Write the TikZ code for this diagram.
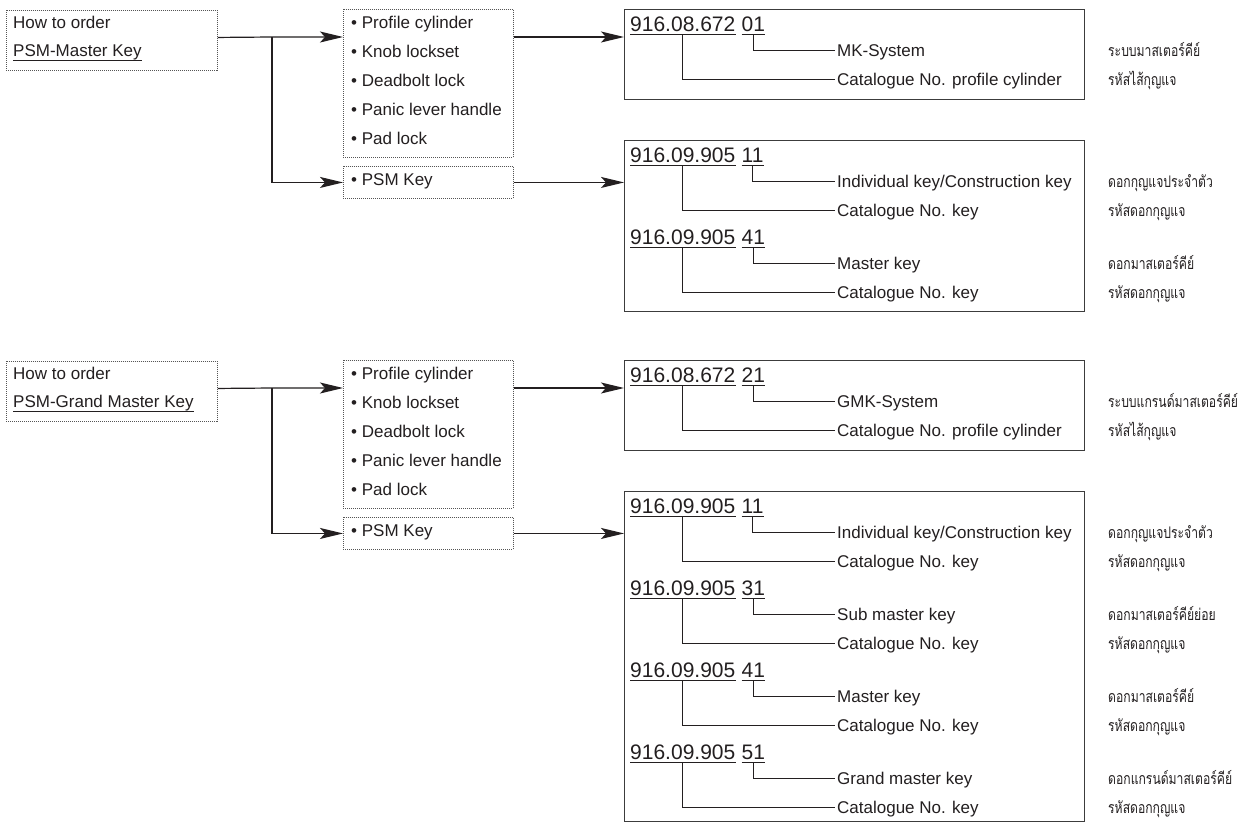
\documentclass[tikz,border=0pt]{standalone}
\usepackage{fontspec}
\setmainfont{Liberation Sans}
\newfontfamily\thaifont[Script=Thai]{Loma}
\usetikzlibrary{arrows.meta}
\definecolor{ink}{HTML}{231F20}
\definecolor{boxcol}{HTML}{3C3C3C}
\definecolor{dotcol}{HTML}{555555}
\newcommand\thtext[1]{\scalebox{0.76}[1]{\thaifont\fontsize{16}{20}\selectfont #1}}
\newcommand\kblock[8]{%
  \node[num] (#1n) at (630,#2) {#3};
  \node[num, xshift=6pt] (#1c) at (#1n.base east) {#4};
  \draw[uline] ([yshift=-3pt]#1n.base west) -- ([yshift=-3pt]#1n.base east);
  \draw[uline] ([yshift=-3pt]#1c.base west) -- ([yshift=-3pt]#1c.base east);
  \node[lbl] (#1a) at (837,#2+25) {#5};
  \node[lbl] (#1b) at (837,#2+54) {#7};
  \node[th] (#1at) at (1108,#2+25) {\thtext{#6}};
  \node[th] (#1bt) at (1108,#2+54) {\thtext{#8}};
  \draw[lead] ([yshift=-3pt]#1c.base) |- ([xshift=-2pt,yshift=6pt]#1a.base west);
  \draw[lead] ([yshift=-3pt]#1n.base) |- ([xshift=-2pt,yshift=6pt]#1b.base west);
}
\begin{document}
\begin{tikzpicture}[x=1pt,y=-1pt,
  dotbox/.style={draw=dotcol, line width=0.9pt, dash pattern=on 1pt off 1pt, anchor=north west, inner sep=0pt},
  solidbox/.style={draw=boxcol, line width=1.1pt, anchor=north west, inner sep=0pt},
  lbl/.style={anchor=base west, inner sep=0pt, font=\fontsize{17}{20}\selectfont, text=ink},
  num/.style={anchor=base west, inner sep=0pt, font=\fontsize{21}{24}\selectfont, text=ink},
  th/.style={anchor=base west, inner sep=0pt, text=ink},
  arr/.style={draw=ink, line width=1.2pt, -{Stealth[length=23pt,width=11pt,inset=5pt]}},
  lead/.style={draw=ink, line width=0.9pt},
  uline/.style={draw=ink, line width=0.9pt}]
\fill[white] (0,0) rectangle (1257,822);
\useasboundingbox (0,0) rectangle (1257,822);

% ---------- Master key ----------
\node[dotbox, minimum width=211pt, minimum height=60pt] (A1) at (6,10) {};
\node[lbl] (A1t1) at (13,28) {How to order};
\node[lbl] (A1t2) at (13,56) {PSM-Master Key};
\draw[uline] ([yshift=-4pt]A1t2.base west) -- ([yshift=-4pt]A1t2.base east);

\node[dotbox, minimum width=170pt, minimum height=148pt] (B1) at (343,9) {};
\foreach \t [count=\i from 0] in {Profile cylinder,Knob lockset,Deadbolt lock,Panic lever handle,Pad lock}
  \node[lbl] (B1i\i) at (351,28+29*\i) {• \t};
\node[dotbox, minimum width=170pt, minimum height=32pt] (B2) at (343,166) {};
\node[lbl] (B2i) at (351,185) {• PSM Key};

\node[solidbox, minimum width=460pt, minimum height=90pt] (C1) at (624,9) {};
\node[solidbox, minimum width=460pt, minimum height=171pt] (C2) at (624,140) {};

\coordinate (J1) at (272,37);
\draw[arr] ([yshift=3pt]A1.east) -- (J1) -- (J1 -| B1.west);
\draw[arr] (J1) |- (B2.west);
\draw[arr] (B1.east |- J1) -- (C1.west |- J1);
\draw[arr] (B2.east) -- (B2.east -| C2.west);

\kblock{k1}{31}{916.08.672}{01}{MK-System}{ระบบมาสเตอร์คีย์}{Catalogue No. profile cylinder}{รหัสไส้กุญแจ}
\kblock{k2}{162}{916.09.905}{11}{Individual key/Construction key}{ดอกกุญแจประจำตัว}{Catalogue No. key}{รหัสดอกกุญแจ}
\kblock{k3}{244}{916.09.905}{41}{Master key}{ดอกมาสเตอร์คีย์}{Catalogue No. key}{รหัสดอกกุญแจ}

% ---------- Grand master key ----------
\node[dotbox, minimum width=211pt, minimum height=60pt] (A2) at (6,361) {};
\node[lbl] (A2t1) at (13,379) {How to order};
\node[lbl] (A2t2) at (13,407) {PSM-Grand Master Key};
\draw[uline] ([yshift=-4pt]A2t2.base west) -- ([yshift=-4pt]A2t2.base east);

\node[dotbox, minimum width=170pt, minimum height=148pt] (B3) at (343,360) {};
\foreach \t [count=\i from 0] in {Profile cylinder,Knob lockset,Deadbolt lock,Panic lever handle,Pad lock}
  \node[lbl] (B3i\i) at (351,379+29*\i) {• \t};
\node[dotbox, minimum width=170pt, minimum height=32pt] (B4) at (343,517) {};
\node[lbl] (B4i) at (351,536) {• PSM Key};

\node[solidbox, minimum width=460pt, minimum height=90pt] (C3) at (624,360) {};
\node[solidbox, minimum width=460pt, minimum height=330pt] (C4) at (624,491) {};

\coordinate (J2) at (272,388);
\draw[arr] ([yshift=3pt]A2.east) -- (J2) -- (J2 -| B3.west);
\draw[arr] (J2) |- (B4.west);
\draw[arr] (B3.east |- J2) -- (C3.west |- J2);
\draw[arr] (B4.east) -- (B4.east -| C4.west);

\kblock{k4}{382}{916.08.672}{21}{GMK-System}{ระบบแกรนด์มาสเตอร์คีย์}{Catalogue No. profile cylinder}{รหัสไส้กุญแจ}
\kblock{k5}{513}{916.09.905}{11}{Individual key/Construction key}{ดอกกุญแจประจำตัว}{Catalogue No. key}{รหัสดอกกุญแจ}
\kblock{k6}{595}{916.09.905}{31}{Sub master key}{ดอกมาสเตอร์คีย์ย่อย}{Catalogue No. key}{รหัสดอกกุญแจ}
\kblock{k7}{677}{916.09.905}{41}{Master key}{ดอกมาสเตอร์คีย์}{Catalogue No. key}{รหัสดอกกุญแจ}
\kblock{k8}{759}{916.09.905}{51}{Grand master key}{ดอกแกรนด์มาสเตอร์คีย์}{Catalogue No. key}{รหัสดอกกุญแจ}
\end{tikzpicture}
\end{document}
